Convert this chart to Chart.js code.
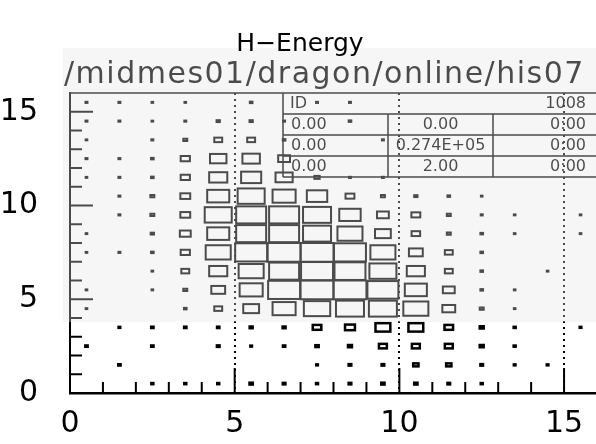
<!DOCTYPE html>
<html>
<head>
<meta charset="utf-8">
<script src="https://cdn.jsdelivr.net/npm/chart.js@4.4.0/dist/chart.umd.min.js"></script>
<style>
  html, body { margin: 0; padding: 0; background: #fff; overflow: hidden; }
  #wrap { width: 600px; height: 444px; }
</style>
</head>
<body>
<div id="wrap"><canvas id="chart" width="600" height="444"></canvas></div>
<script>
// 16 x 16 bins, width 1 on both axes
const xBinCenters = [0.5, 1.5, 2.5, 3.5, 4.5, 5.5, 6.5, 7.5, 8.5, 9.5, 10.5, 11.5, 12.5, 13.5, 14.5, 15.5];
// top row first, same order as binRows
const yBinCenters = [15.5, 14.5, 13.5, 12.5, 11.5, 10.5, 9.5, 8.5, 7.5, 6.5, 5.5, 4.5, 3.5, 2.5, 1.5, 0.5];

// relative bin contents (100 = box fills the cell)
const binRows = [
  [6, 6, 5, 5, 0, 8, 0, 6, 6, 0, 0, 0, 0, 0, 0, 0],
  [6, 6, 5, 6, 10, 10, 6, 0, 8, 0, 0, 0, 0, 0, 0, 0],
  [5, 0, 6, 12, 24, 24, 8, 0, 0, 6, 0, 0, 0, 0, 0, 0],
  [6, 6, 8, 28, 50, 53, 36, 0, 0, 0, 0, 0, 0, 0, 0, 0],
  [5, 6, 8, 28, 55, 61, 52, 16, 6, 6, 0, 0, 0, 0, 0, 0],
  [0, 6, 12, 30, 67, 82, 70, 62, 27, 12, 10, 8, 5, 0, 0, 0],
  [0, 6, 12, 30, 82, 91, 91, 85, 65, 36, 27, 12, 6, 5, 0, 5],
  [5, 0, 10, 33, 67, 91, 91, 85, 76, 48, 26, 12, 8, 5, 0, 5],
  [5, 6, 8, 28, 76, 97, 100, 100, 97, 76, 42, 24, 8, 0, 0, 0],
  [0, 0, 5, 24, 55, 76, 91, 97, 94, 82, 55, 24, 8, 0, 5, 0],
  [5, 0, 5, 12, 42, 70, 97, 100, 100, 94, 67, 36, 8, 5, 0, 0],
  [5, 0, 0, 8, 24, 48, 70, 80, 85, 85, 76, 39, 12, 5, 0, 0],
  [0, 5, 7, 7, 7, 9, 9, 26, 30, 45, 45, 26, 12, 6, 0, 5],
  [7, 0, 7, 0, 8, 5, 7, 10, 12, 24, 24, 24, 12, 6, 0, 0],
  [0, 7, 0, 0, 0, 0, 0, 5, 8, 8, 16, 16, 8, 5, 5, 0],
  [0, 0, 6, 6, 6, 10, 8, 6, 8, 10, 10, 8, 6, 0, 0, 0]
];

const xTickLabels = [0, 5, 10, 15];
const yTickLabels = [0, 5, 10, 15];
const minorTicks = [1, 2, 3, 4, 5, 6, 7, 8, 9, 10, 11, 12, 13, 14, 15];

const titleText = 'H\u2212Energy';
const pathText = '/midmes01/dragon/online/his07';
const statsHeader = ['ID', '1008'];
const statsRows = [
  ['0.00', '0.00', '0:00'],
  ['0.00', '0.274E+05', '0:00'],
  ['0.00', '2.00', '0:00']
];

const FONT = "'DejaVu Sans', 'Liberation Sans', sans-serif";

const points = [];
binRows.forEach((row, r) => {
  row.forEach((v, c) => {
    if (v > 0) points.push({ x: xBinCenters[c], y: yBinCenters[r], v: v });
  });
});

// boxes: size taken from the scales' pixels per bin
const boxPlugin = {
  id: 'boxes',
  afterDatasetsDraw(chart) {
    const { ctx, scales: { x, y } } = chart;
    const cw = x.getPixelForValue(1) - x.getPixelForValue(0);
    const ch = y.getPixelForValue(0) - y.getPixelForValue(1);
    const meta = chart.getDatasetMeta(0);
    ctx.save();
    ctx.strokeStyle = '#000';
    meta.data.forEach((el, i) => {
      const p = points[i];
      const w = cw * p.v / 100;
      const h = ch * p.v / 100;
      ctx.lineWidth = p.y < 4 ? 2.5 : 2;
      ctx.strokeRect(el.x - w / 2, el.y - h / 2, w, h);
    });
    ctx.restore();
  }
};

const framePlugin = {
  id: 'frame',
  afterDraw(chart) {
    const { ctx, chartArea: a, scales: { x, y } } = chart;
    ctx.save();
    ctx.strokeStyle = '#000';
    ctx.lineWidth = 1.5;
    ctx.beginPath();
    ctx.moveTo(a.left, a.top);
    ctx.lineTo(a.right, a.top);
    ctx.stroke();

    // inward tick marks
    ctx.lineWidth = 2;
    minorTicks.forEach(v => {
      const px = x.getPixelForValue(v);
      const lx = v % 5 === 0 ? 25 : 11;
      ctx.beginPath();
      ctx.moveTo(px, a.bottom);
      ctx.lineTo(px, a.bottom - lx);
      ctx.stroke();
      const py = y.getPixelForValue(v);
      const ly = v % 5 === 0 ? 23 : 12;
      ctx.beginPath();
      ctx.moveTo(a.left, py);
      ctx.lineTo(a.left + ly, py);
      ctx.stroke();
    });

    // statistics box
    const tl = 283, rh = 21, c1 = 388, c2 = 493, tr = a.right;
    ctx.lineWidth = 1.5;
    ctx.beginPath();
    ctx.moveTo(tl, a.top);
    ctx.lineTo(tl, a.top + rh * 4);
    for (let i = 1; i <= 4; i++) {
      ctx.moveTo(tl, a.top + rh * i);
      ctx.lineTo(tr, a.top + rh * i);
    }
    ctx.moveTo(c1, a.top + rh); ctx.lineTo(c1, a.top + rh * 4);
    ctx.moveTo(c2, a.top + rh); ctx.lineTo(c2, a.top + rh * 4);
    ctx.stroke();

    ctx.fillStyle = '#000';
    ctx.font = '16px ' + FONT;
    ctx.textBaseline = 'middle';
    ctx.textAlign = 'left';
    ctx.fillText(statsHeader[0], tl + 7, a.top + rh / 2);
    ctx.textAlign = 'right';
    ctx.fillText(statsHeader[1], 586, a.top + rh / 2);
    statsRows.forEach((row, i) => {
      const ty = a.top + rh * (i + 1.5);
      ctx.textAlign = 'left';
      ctx.fillText(row[0], tl + 8, ty);
      ctx.textAlign = 'center';
      ctx.fillText(row[1], (c1 + c2) / 2, ty);
      ctx.textAlign = 'right';
      ctx.fillText(row[2], 586, ty);
    });

    // file path line
    ctx.font = '30px ' + FONT;
    ctx.textAlign = 'left';
    ctx.textBaseline = 'alphabetic';
    ctx.letterSpacing = '1.5px';
    ctx.fillText(pathText, 64, 83);
    ctx.letterSpacing = '0px';

    // faded upper part of the sheet
    ctx.fillStyle = 'rgba(229, 229, 229, 0.33)';
    ctx.fillRect(63, 48, chart.width - 63, 322 - 48);

    // title
    ctx.fillStyle = '#000';
    ctx.font = '25px ' + FONT;
    ctx.textAlign = 'center';
    ctx.fillText(titleText, 300, 51);
    ctx.restore();
  }
};

new Chart(document.getElementById('chart').getContext('2d'), {
  type: 'scatter',
  data: {
    datasets: [{ data: points, pointRadius: 0, pointHoverRadius: 0, borderWidth: 0 }]
  },
  options: {
    responsive: false,
    animation: false,
    events: [],
    layout: { padding: { top: 93, right: 3, bottom: 0, left: 0 } },
    plugins: { legend: { display: false }, tooltip: { enabled: false } },
    scales: {
      x: {
        type: 'linear', min: 0, max: 16,
        afterBuildTicks: s => { s.ticks = xTickLabels.map(v => ({ value: v })); },
        afterFit: s => { s.height = 51; },
        ticks: { font: { family: FONT, size: 30 }, color: '#000', padding: 13, maxRotation: 0, autoSkip: false },
        grid: {
          drawTicks: false,
          lineWidth: 2,
          color: c => (c.tick && c.tick.value > 0 ? '#000' : 'rgba(0,0,0,0)')
        },
        border: { display: true, color: '#000', width: 2.5, dash: [2, 4] }
      },
      y: {
        type: 'linear', min: 0, max: 16,
        afterBuildTicks: s => { s.ticks = yTickLabels.map(v => ({ value: v })); },
        afterFit: s => { s.width = 70; },
        ticks: { font: { family: FONT, size: 30 }, color: '#000', padding: 32, autoSkip: false },
        grid: { display: false, drawTicks: false },
        border: { display: true, color: '#000', width: 2 }
      }
    }
  },
  plugins: [boxPlugin, framePlugin]
});
</script>
</body>
</html>
